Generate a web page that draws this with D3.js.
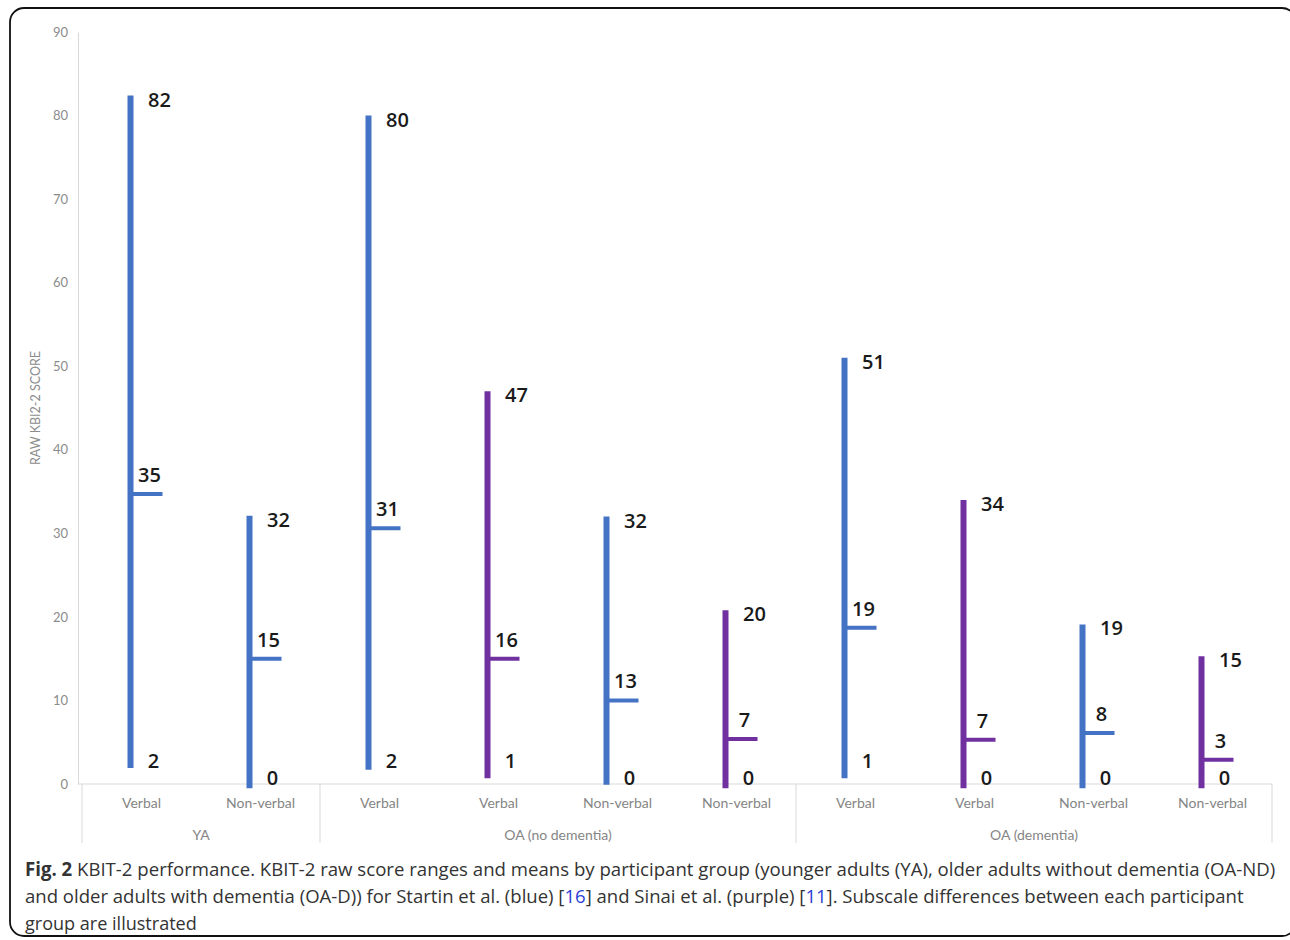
<!DOCTYPE html>
<html>
<head>
<meta charset="utf-8">
<script src="https://cdn.jsdelivr.net/npm/d3@7"></script>
<style>
  html, body { margin: 0; padding: 0; background: #fff; }
  svg { display: block; }
  .tick-label { font-family: Lato, "Open Sans", sans-serif; font-size: 13px; fill: #8c8c8c; }
  .cat-label { font-family: Lato, "Open Sans", sans-serif; font-size: 14px; fill: #858585; }
  .val-label { font-family: "Open Sans", sans-serif; font-size: 20px; font-weight: 600; fill: #1a1a1a; }
  .caption { font-family: "Open Sans", sans-serif; font-size: 19px; fill: #333; }
</style>
</head>
<body>
<svg id="chart" width="1290" height="940"></svg>
<script>
const subscales = ["Verbal", "Non-verbal", "Verbal", "Verbal", "Non-verbal", "Non-verbal", "Verbal", "Verbal", "Non-verbal", "Non-verbal"];
const groups = ["YA", "YA", "OA (no dementia)", "OA (no dementia)", "OA (no dementia)", "OA (no dementia)", "OA (dementia)", "OA (dementia)", "OA (dementia)", "OA (dementia)"];
const studies = ["Startin", "Startin", "Startin", "Sinai", "Startin", "Sinai", "Startin", "Sinai", "Startin", "Sinai"];

// plotted range ends and means, as drawn
const maxValues = [82.4, 32.1, 80, 47, 32, 20.8, 51, 34, 19.1, 15.3];
const meanValues = [34.7, 15, 30.6, 15, 10, 5.4, 18.7, 5.3, 6.1, 2.9];
const minValues = [1.9, -0.5, 1.7, 0.7, -0.1, -0.5, 0.7, -0.5, -0.5, -0.5];

// printed data labels
const maxLabels = [82, 32, 80, 47, 32, 20, 51, 34, 19, 15];
const meanLabels = [35, 15, 31, 16, 13, 7, 19, 7, 8, 3];
const minLabels = [2, 0, 2, 1, 0, 0, 1, 0, 0, 0];

const yTicks = [0, 10, 20, 30, 40, 50, 60, 70, 80, 90];
const studyColors = { Startin: "#4472c4", Sinai: "#7030a0" };

const svg = d3.select("#chart");

// frame
svg.append("rect")
  .attr("x", 10).attr("y", 8)
  .attr("width", 1286).attr("height", 928)
  .attr("rx", 14)
  .attr("fill", "none")
  .attr("stroke", "#111")
  .attr("stroke-width", 1.8);

const x = d3.scaleBand()
  .domain(d3.range(subscales.length))
  .range([82, 1272])
  .padding(0);

const y = d3.scaleLinear()
  .domain([0, 90])
  .range([784, 32]);

const axisColor = "#d9d9d9";

// y axis
const yAxis = svg.append("g")
  .attr("transform", "translate(78,0)")
  .call(d3.axisLeft(y).tickValues(yTicks).tickSize(0).tickPadding(10));
yAxis.select(".domain").attr("stroke", axisColor);
yAxis.selectAll("text").attr("class", "tick-label").attr("font-family", null).attr("font-size", null);

// x axis baseline
svg.append("line")
  .attr("x1", 78).attr("x2", x.range()[1])
  .attr("y1", y(0)).attr("y2", y(0))
  .attr("stroke", axisColor);

svg.append("text")
  .attr("class", "tick-label")
  .attr("transform", `translate(40,${(y(0) + y(90)) / 2}) rotate(-90)`)
  .attr("text-anchor", "middle")
  .style("font-size", "12.5px")
  .text("RAW KBI2-2 SCORE");

// category labels
svg.selectAll("text.sub")
  .data(subscales)
  .join("text")
  .attr("class", "cat-label sub")
  .attr("x", (d, i) => x(i) + x.bandwidth() / 2)
  .attr("y", 808)
  .attr("text-anchor", "middle")
  .text(d => d);

// group separators and labels
const groupNames = Array.from(new Set(groups));
const groupSpans = groupNames.map(g => {
  const idx = groups.map((v, i) => v === g ? i : -1).filter(i => i >= 0);
  return { name: g, x0: x(idx[0]), x1: x(idx[idx.length - 1]) + x.bandwidth() };
});
const sepXs = [groupSpans[0].x0].concat(groupSpans.map(s => s.x1));
svg.selectAll("line.sep")
  .data(sepXs)
  .join("line")
  .attr("class", "sep")
  .attr("x1", d => d).attr("x2", d => d)
  .attr("y1", y(0)).attr("y2", 843)
  .attr("stroke", axisColor);

svg.selectAll("text.grp")
  .data(groupSpans)
  .join("text")
  .attr("class", "cat-label grp")
  .attr("x", d => (d.x0 + d.x1) / 2)
  .attr("y", 840)
  .attr("text-anchor", "middle")
  .text(d => d.name);

// range bars
const barX = i => x(i) + x.bandwidth() / 2 - 11;

const items = d3.range(subscales.length).map(i => ({
  i, color: studyColors[studies[i]],
  max: maxValues[i], mean: meanValues[i], min: minValues[i],
  maxL: maxLabels[i], meanL: meanLabels[i], minL: minLabels[i]
}));

svg.selectAll("line.range")
  .data(items)
  .join("line")
  .attr("class", "range")
  .attr("x1", d => barX(d.i)).attr("x2", d => barX(d.i))
  .attr("y1", d => y(d.max)).attr("y2", d => y(d.min))
  .attr("stroke", d => d.color)
  .attr("stroke-width", 6);

svg.selectAll("line.mean")
  .data(items)
  .join("line")
  .attr("class", "mean")
  .attr("x1", d => barX(d.i)).attr("x2", d => barX(d.i) + 32)
  .attr("y1", d => y(d.mean)).attr("y2", d => y(d.mean))
  .attr("stroke", d => d.color)
  .attr("stroke-width", 4);

svg.selectAll("text.max-l")
  .data(items)
  .join("text")
  .attr("class", "val-label max-l")
  .attr("x", d => barX(d.i) + 29)
  .attr("y", d => y(d.max) + 11)
  .attr("text-anchor", "middle")
  .text(d => d.maxL);

svg.selectAll("text.mean-l")
  .data(items)
  .join("text")
  .attr("class", "val-label mean-l")
  .attr("x", d => barX(d.i) + 19)
  .attr("y", d => y(d.mean) - 12)
  .attr("text-anchor", "middle")
  .text(d => d.meanL);

svg.selectAll("text.min-l")
  .data(items)
  .join("text")
  .attr("class", "val-label min-l")
  .attr("x", d => barX(d.i) + 23)
  .attr("y", d => d.minL > 0 ? y(2) + 1 : y(0) + 1)
  .attr("text-anchor", "middle")
  .text(d => d.minL);

// caption, squeezed horizontally to the reference line widths
function captionLine(yPos, width, parts) {
  const t = svg.append("text").attr("class", "caption").attr("x", 0).attr("y", 0);
  parts.forEach(p => {
    const s = t.append("tspan").text(p.text);
    if (p.bold) s.attr("font-weight", 700);
    if (p.link) s.attr("fill", "#2b3fd6");
  });
  const natural = t.node().getComputedTextLength();
  t.attr("transform", `translate(25,${yPos}) scale(${width / natural},1)`);
}

captionLine(876, 1251, [
  { text: "Fig. 2", bold: true },
  { text: " KBIT-2 performance. KBIT-2 raw score ranges and means by participant group (younger adults (YA), older adults without dementia (OA-ND)" }
]);
captionLine(903, 1219, [
  { text: "and older adults with dementia (OA-D)) for Startin et al. (blue) [" },
  { text: "16", link: true },
  { text: "] and Sinai et al. (purple) [" },
  { text: "11", link: true },
  { text: "]. Subscale differences between each participant" }
]);
captionLine(930, 172, [{ text: "group are illustrated" }]);
</script>
</body>
</html>
